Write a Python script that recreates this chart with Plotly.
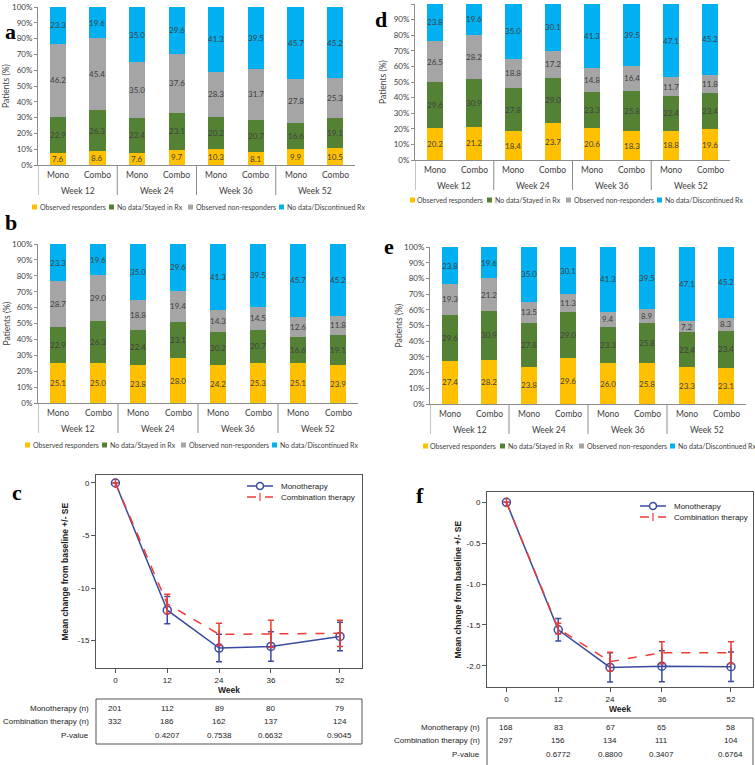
import plotly.graph_objects as go

W, H = 755, 765

# ---------------- data ----------------
week_labels = ["Week 12", "Week 24", "Week 36", "Week 52"]
groups = ["Mono", "Combo"]
series_names = ["Observed responders", "No data/Stayed in Rx",
                "Observed non-responders", "No data/Discontinued Rx"]
series_colors = ["#FFC000", "#548235", "#A5A5A5", "#00B0F0"]

# order: W12 Mono, W12 Combo, W24 Mono, W24 Combo, W36 Mono, W36 Combo, W52 Mono, W52 Combo
a_resp = [7.6, 8.6, 7.6, 9.7, 10.3, 8.1, 9.9, 10.5]
a_stay = [22.9, 26.3, 22.4, 23.1, 20.2, 20.7, 16.6, 19.1]
a_nonr = [46.2, 45.4, 35.0, 37.6, 28.3, 31.7, 27.8, 25.3]
a_disc = [23.3, 19.6, 35.0, 29.6, 41.3, 39.5, 45.7, 45.2]

b_resp = [25.1, 25.0, 23.8, 28.0, 24.2, 25.3, 25.1, 23.9]
b_stay = [22.9, 26.3, 22.4, 23.1, 20.2, 20.7, 16.6, 19.1]
b_nonr = [28.7, 29.0, 18.8, 19.4, 14.3, 14.5, 12.6, 11.8]
b_disc = [23.3, 19.6, 35.0, 29.6, 41.3, 39.5, 45.7, 45.2]

d_resp = [20.2, 21.2, 18.4, 23.7, 20.6, 18.3, 18.8, 19.6]
d_stay = [29.6, 30.9, 27.8, 29.0, 23.3, 25.8, 22.4, 23.4]
d_nonr = [26.5, 28.2, 18.8, 17.2, 14.8, 16.4, 11.7, 11.8]
d_disc = [23.8, 19.6, 35.0, 30.1, 41.3, 39.5, 47.1, 45.2]

e_resp = [27.4, 28.2, 23.8, 29.6, 26.0, 25.8, 23.3, 23.1]
e_stay = [29.6, 30.9, 27.8, 29.0, 23.3, 25.8, 22.4, 23.4]
e_nonr = [19.3, 21.2, 13.5, 11.3, 9.4, 8.9, 7.2, 8.3]
e_disc = [23.8, 19.6, 35.0, 30.1, 41.3, 39.5, 47.1, 45.2]

pct_ticks = [0, 10, 20, 30, 40, 50, 60, 70, 80, 90, 100]

weeks = [0, 12, 24, 36, 52]
c_mono = [0, -12.1, -15.7, -15.55, -14.6]
c_mono_se = [0, 1.3, 1.3, 1.4, 1.35]
c_combo = [0, -11.5, -14.4, -14.35, -14.3]
c_combo_se = [0, 0.92, 1.05, 1.3, 1.25]
c_yticks = [0, -5, -10, -15]

f_mono = [0, -1.56, -2.02, -2.005, -2.012]
f_mono_se = [0, 0.137, 0.18, 0.19, 0.18]
f_combo = [0, -1.545, -1.95, -1.84, -1.84]
f_combo_se = [0, 0.065, 0.115, 0.135, 0.135]
f_yticks = [0, -0.5, -1.0, -1.5, -2.0]
f_yticktext = ["0", "-0.5", "-1.0", "-1.5", "-2.0"]

line_names = ["Monotherapy", "Combination therapy"]
table_rows = ["Monotherapy (n)", "Combination therapy (n)", "P-value"]
c_mono_n = [201, 112, 89, 80, 79]
c_combo_n = [332, 186, 162, 137, 124]
c_pval = ["", "0.4207", "0.7538", "0.6632", "0.9045"]
f_mono_n = [168, 83, 67, 65, 58]
f_combo_n = [297, 156, 134, 111, 104]
f_pval = ["", "0.6772", "0.8800", "0.3407", "0.6764"]

# ---------------- helpers ----------------
def px(x):
    return x / W

def py(y):
    return 1 - y / H

BAR_FONT = "Lato, Calibri, Carlito, sans-serif"
LINE_FONT = "Liberation Sans, Arial, sans-serif"
SERIF = "Liberation Serif, Times New Roman, serif"
TXT = "#404040"
AX = "#8C8C8C"

fig = go.Figure()
annotations = []
shapes = []

cats = [w + " " + g for w in week_labels for g in groups]
inner = [g for w in week_labels for g in groups]

bar_panels = [
    # key, data, xdomain px, (axis px, top px), legend y px, legend x px, letter, ylabel x
    ("", [a_resp, a_stay, a_nonr, a_disc], (38, 355), (165, 7), 207, 32, ("a", 10, 32), 6),
    ("2", [d_resp, d_stay, d_nonr, d_disc], (415, 730), (160, 4), 200, 410, ("d", 381, 19), 383),
    ("3", [b_resp, b_stay, b_nonr, b_disc], (38, 358), (403, 244), 445, 25, ("b", 11, 222), 6),
    ("4", [e_resp, e_stay, e_nonr, e_disc], (430, 746), (404, 247), 446, 423, ("e", 389, 247), 398),
]

leg_offsets = [0, 77, 156, 247]

for key, data, xd, yd, leg_y, leg_x, letter, ylx in bar_panels:
    xa = "x" + key
    ya = "y" + key
    base = [0.0] * len(cats)
    for vals, name, col in zip(data, series_names, series_colors):
        fig.add_trace(go.Bar(
            x=cats, y=vals, name=name, marker=dict(color=col, line=dict(width=0)),
            xaxis=xa, yaxis=ya, showlegend=False,
        ))
        for i, v in enumerate(vals):
            annotations.append(dict(text=f"{v:.1f}", xref=xa, yref=ya, x=i,
                                    y=base[i] + v / 2, showarrow=False,
                                    xanchor="center", yanchor="middle",
                                    font=dict(family=BAR_FONT, size=8, color=TXT)))
            base[i] += v
    fig.update_layout(**{
        "xaxis" + key: dict(domain=[px(xd[0]), px(xd[1])], anchor=ya, type="category",
                            range=[-0.5, len(cats) - 0.5], automargin=False,
                            showline=True, linecolor=AX, linewidth=1, ticks="",
                            showticklabels=False, showgrid=False, zeroline=False),
        "yaxis" + key: dict(domain=[py(yd[0]), py(yd[1])], anchor=xa, range=[0, 100],
                            automargin=False,
                            tickvals=pct_ticks, ticktext=[f"{t}%" for t in pct_ticks],
                            ticks="outside", ticklen=3,
                            tickcolor=AX, showline=True, linecolor=AX, linewidth=1,
                            showgrid=False, zeroline=False,
                            tickfont=dict(family=BAR_FONT, size=8, color=TXT)),
    })
    # category labels (inner and outer) + dividers
    for i, lab in enumerate(inner):
        annotations.append(dict(text=lab, xref=xa, yref="paper", x=i, y=py(yd[0] + 10),
                                showarrow=False, xanchor="center", yanchor="middle",
                                font=dict(family=BAR_FONT, size=8.5, color=TXT)))
    for k, wl in enumerate(week_labels):
        annotations.append(dict(text=wl, xref=xa, yref="paper",
                                x=k * len(groups) + (len(groups) - 1) / 2,
                                y=py(yd[0] + 26), showarrow=False,
                                xanchor="center", yanchor="middle",
                                font=dict(family=BAR_FONT, size=8.5, color=TXT)))
        shapes.append(dict(type="line", xref=xa, yref="paper",
                           x0=k * len(groups) - 0.5, x1=k * len(groups) - 0.5,
                           y0=py(yd[0]), y1=py(yd[0] + 30),
                           line=dict(color=AX, width=1)))
    # y title
    annotations.append(dict(text="Patients (%)", xref="paper", yref="paper",
                            x=px(ylx), y=py((yd[0] + yd[1]) / 2), textangle=-90,
                            showarrow=False, xanchor="center", yanchor="middle",
                            font=dict(family=BAR_FONT, size=8.5, color=TXT)))
    # panel letter
    annotations.append(dict(text="<b>%s</b>" % letter[0], xref="paper", yref="paper",
                            x=px(letter[1]), y=py(letter[2]), showarrow=False,
                            xanchor="center", yanchor="middle",
                            font=dict(family=SERIF, size=22, color="#000")))
    # manual legend
    for off, name, col in zip(leg_offsets, series_names, series_colors):
        x0 = leg_x + off
        shapes.append(dict(type="rect", xref="paper", yref="paper",
                           x0=px(x0), x1=px(x0 + 5), y0=py(leg_y + 2.5), y1=py(leg_y - 2.5),
                           fillcolor=col, line=dict(width=0)))
        annotations.append(dict(text=name, xref="paper", yref="paper",
                                x=px(x0 + 5.5), y=py(leg_y), showarrow=False,
                                xanchor="left", yanchor="middle",
                                font=dict(family=BAR_FONT, size=7, color=TXT)))

# ---------------- line panels ----------------
BLUE = "#3A4A9F"
RED = "#EE3B34"

line_panels = [
    ("5", c_mono, c_mono_se, c_combo, c_combo_se, (96, 362), (668, 475),
     [-17.6, 0.76], c_yticks, [str(v) for v in c_yticks],
     (247, 486), ("c", 17, 492), 64,
     [c_mono_n, c_combo_n, c_pval], (699, 744), [708, 721, 735]),
    ("6", f_mono, f_mono_se, f_combo, f_combo_se, (487, 753), (687, 492),
     [-2.26, 0.126], f_yticks, f_yticktext,
     (640, 506), ("f", 420, 495), 457,
     [f_mono_n, f_combo_n, f_pval], (718, 772), [727, 740, 754]),
]

for (key, mono, mono_se, combo, combo_se, xd, yd, yr, ytv, ytt, legpos, letter,
     ylx, tab, tabbox, rows) in line_panels:
    xa = "x" + key
    ya = "y" + key
    fig.add_trace(go.Scatter(
        x=weeks, y=mono, name=line_names[0], mode="lines+markers",
        line=dict(color=BLUE, width=1.5),
        marker=dict(symbol="circle-open", size=8, color=BLUE, line=dict(width=1.5)),
        error_y=dict(type="data", array=mono_se, color=BLUE, thickness=1.5, width=3),
        xaxis=xa, yaxis=ya, showlegend=False))
    fig.add_trace(go.Scatter(
        x=weeks, y=combo, name=line_names[1], mode="lines+markers",
        line=dict(color=RED, width=1.5, dash="dash"),
        marker=dict(symbol="line-ns-open", size=7, color=RED, line=dict(width=1.5, color=RED)),
        error_y=dict(type="data", array=combo_se, color=RED, thickness=1.5, width=3),
        xaxis=xa, yaxis=ya, showlegend=False))
    fig.update_layout(**{
        "xaxis" + key: dict(domain=[px(xd[0]), px(xd[1])], anchor=ya, range=[-4.5, 57.1],
                            automargin=False,
                            tickvals=weeks, ticks="outside", ticklen=4, tickcolor="#555",
                            showline=True, mirror=True, linecolor="#555", linewidth=1,
                            showgrid=False, zeroline=False,
                            title=dict(text="<b>Week</b>", standoff=1,
                                       font=dict(family=LINE_FONT, size=8.5, color="#222")),
                            tickfont=dict(family=LINE_FONT, size=8, color="#222")),
        "yaxis" + key: dict(domain=[py(yd[0]), py(yd[1])], anchor=xa, range=yr,
                            automargin=False,
                            tickvals=ytv, ticktext=ytt, ticks="outside", ticklen=4,
                            tickcolor="#555", showline=True, mirror=True, linecolor="#555",
                            linewidth=1, showgrid=False, zeroline=False,
                            tickfont=dict(family=LINE_FONT, size=8, color="#222")),
    })
    # manual legend
    lx, ly = legpos
    shapes.append(dict(type="line", xref="paper", yref="paper", x0=px(lx), x1=px(lx + 26),
                       y0=py(ly), y1=py(ly), line=dict(color=BLUE, width=1.5)))
    shapes.append(dict(type="circle", xref="paper", yref="paper",
                       x0=px(lx + 9.5), x1=px(lx + 16.5), y0=py(ly + 3.5), y1=py(ly - 3.5),
                       line=dict(color=BLUE, width=1.5), fillcolor="white"))
    shapes.append(dict(type="line", xref="paper", yref="paper", x0=px(lx), x1=px(lx + 26),
                       y0=py(ly + 11), y1=py(ly + 11),
                       line=dict(color=RED, width=1.5, dash="dash")))
    shapes.append(dict(type="line", xref="paper", yref="paper", x0=px(lx + 13), x1=px(lx + 13),
                       y0=py(ly + 7), y1=py(ly + 15), line=dict(color=RED, width=1.2)))
    for j, nm in enumerate(line_names):
        annotations.append(dict(text=nm, xref="paper", yref="paper", x=px(lx + 32),
                                y=py(ly + 11 * j), xanchor="left", yanchor="middle",
                                showarrow=False,
                                font=dict(family=LINE_FONT, size=8, color="#222")))
    annotations.append(dict(text="<b>Mean change from baseline +/- SE</b>", xref="paper",
                            yref="paper", x=px(ylx), y=py((yd[0] + yd[1]) / 2),
                            textangle=-90, showarrow=False, xanchor="center",
                            yanchor="middle",
                            font=dict(family=LINE_FONT, size=8.5, color="#222")))
    annotations.append(dict(text="<b>%s</b>" % letter[0], xref="paper", yref="paper",
                            x=px(letter[1]), y=py(letter[2]), showarrow=False,
                            xanchor="center", yanchor="middle",
                            font=dict(family=SERIF, size=22, color="#000")))
    # table
    shapes.append(dict(type="rect", xref=xa + " domain", yref="paper", x0=0, x1=1,
                       y0=py(tabbox[1]), y1=py(tabbox[0]),
                       line=dict(color="#555", width=1)))
    for rlabel, rvals, ry in zip(table_rows, tab, rows):
        annotations.append(dict(text=rlabel, xref=xa + " domain", yref="paper",
                                x=-0.018, y=py(ry), xanchor="right", yanchor="middle",
                                showarrow=False,
                                font=dict(family=LINE_FONT, size=8, color="#222")))
        for wk, v in zip(weeks, rvals):
            if str(v) == "":
                continue
            annotations.append(dict(text=str(v), xref=xa, yref="paper", x=wk, y=py(ry),
                                    xanchor="center", yanchor="middle", showarrow=False,
                                    font=dict(family=LINE_FONT, size=8, color="#222")))

fig.update_layout(
    width=W, height=H, margin=dict(l=0, r=0, t=0, b=0, autoexpand=False),
    paper_bgcolor="white", plot_bgcolor="white",
    barmode="stack", bargap=0.59, showlegend=False,
    annotations=annotations, shapes=shapes,
)

fig.write_html(
    "out.html",
    config={"displayModeBar": False},
    post_script="document.body.style.margin='0';document.body.style.overflow='hidden';",
)
